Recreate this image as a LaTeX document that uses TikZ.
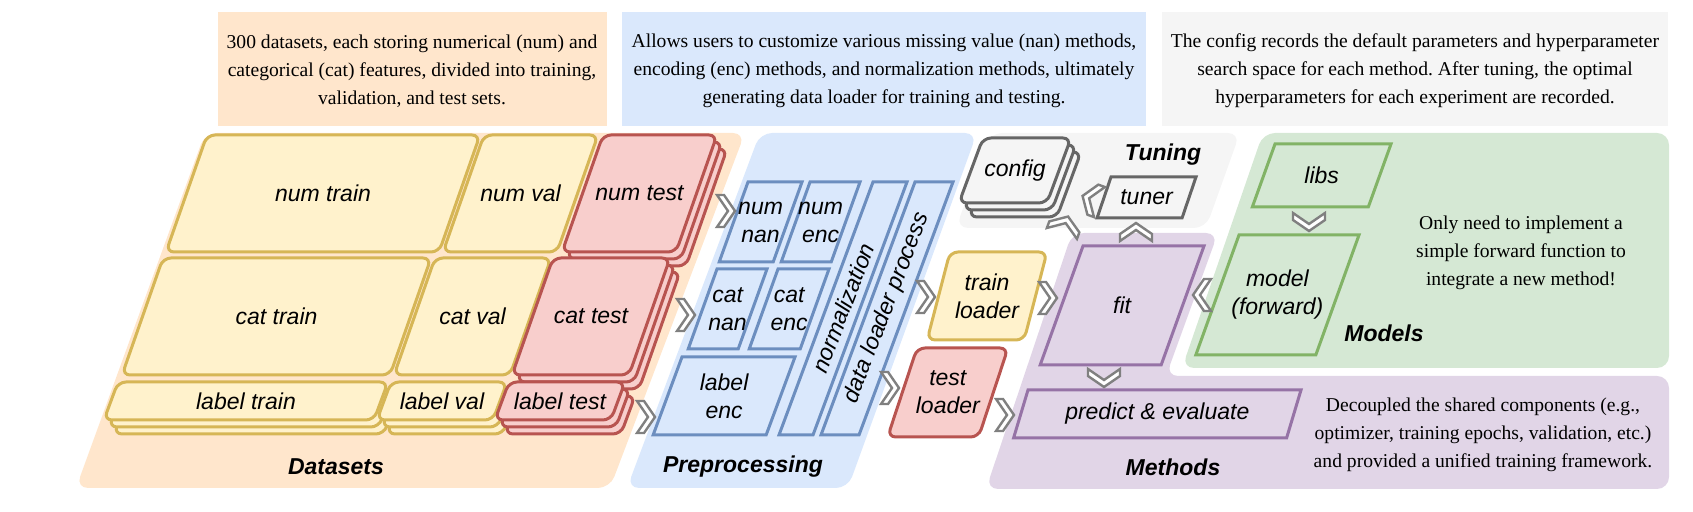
\documentclass[tikz,border=0pt]{standalone}
\usepackage{fontspec}
\setmainfont{Liberation Serif}
\newfontfamily\lab{Liberation Sans}

\definecolor{yfill}{HTML}{FFF2CC}
\definecolor{ydraw}{HTML}{D6B656}
\definecolor{rfill}{HTML}{F8CECC}
\definecolor{rdraw}{HTML}{B85450}
\definecolor{bfill}{HTML}{DAE8FC}
\definecolor{bdraw}{HTML}{6C8EBF}
\definecolor{gfill}{HTML}{D5E8D4}
\definecolor{gdraw}{HTML}{82B366}
\definecolor{pfill}{HTML}{E1D5E7}
\definecolor{pdraw}{HTML}{9673A6}
\definecolor{ofill}{HTML}{FFE6CC}
\definecolor{tfill}{HTML}{F5F5F5}
\definecolor{tdraw}{HTML}{666666}
\definecolor{chev}{HTML}{808080}

% slanted box: [slant]{style}{name}{x}{y}{w}{h}{text}
\newcommand{\slbox}[8][0.36]{%
	\draw[#2] (#4,#5) -- ++(#6,0) -- ++({-#1*#7},#7) -- ++(-#6,0) -- cycle;
	\node[lbl] (#3) at ({#4+#6/2-#1*#7/2},{#5+#7/2}) {#8};}
% two copies behind a box
\newcommand{\slstack}[6][0.36]{%
	\foreach \d in {2,1}
		\draw[#2, shift={(\d*5,\d*7)}] (#3,#4) -- ++(#5,0) -- ++({-#1*#6},#6) -- ++(-#5,0) -- cycle;}
% chevron arrow: {position}{angle}
\newcommand{\chev}[2]{\draw[chevron, shift={#1}, rotate=#2] (-9,-16) -- (-2,-16) -- (9,0) -- (-2,16) -- (-9,16) -- (2,0) -- cycle;}

\begin{document}
\begin{tikzpicture}[x=0.5pt, y=-0.5pt,
	lbl/.style={font=\lab\itshape\fontsize{11.5}{14}\selectfont, align=center, inner sep=0pt},
	sect/.style={font=\lab\bfseries\itshape\fontsize{11.5}{14}\selectfont, inner sep=0pt},
	desc/.style={font=\fontsize{9.8}{14}\selectfont, align=center, inner sep=0pt},
	ybox/.style={draw=ydraw, fill=yfill, line width=1.5pt, rounded corners=4pt},
	rbox/.style={draw=rdraw, fill=rfill, line width=1.5pt, rounded corners=4pt},
	bbox/.style={draw=bdraw, fill=bfill, line width=1.5pt},
	tbox/.style={draw=tdraw, fill=tfill, line width=1.5pt},
	gbox/.style={draw=gdraw, fill=gfill, line width=1.5pt},
	mbox/.style={draw=pdraw, fill=pfill, line width=1.5pt},
	chevron/.style={draw=chev, fill=white, line width=1.2pt}]
	\useasboundingbox (0,0) rectangle (1693,512);

	% panels
	\fill[ofill, rounded corners=6pt] (205,133) -- (745,133) -- (610,488) -- (76,488) -- cycle;
	\fill[bfill, rounded corners=6pt] (760,133) -- (977,133) -- (848,488) -- (627,488) -- cycle;
	\fill[tfill, rounded corners=6pt] (990,133) -- (1240,133) -- (1206,228) -- (956,228) -- cycle;
	\fill[gfill, rounded corners=6pt] (1263,133) -- (1669,133) -- (1669,368) -- (1182,368) -- cycle;
	\fill[pfill, rounded corners=6pt] (1072,233) -- (1218,233) -- (1166,376) -- (1669,376) -- (1669,489) -- (986,489) -- cycle;

	% descriptions
	\fill[ofill] (218,12) rectangle (607,126);
	\fill[bfill] (622,12) rectangle (1146,126);
	\fill[tfill] (1162,12) rectangle (1668,126);
	\node[desc] (dsdesc) at (412,71) {300 datasets, each storing numerical (num) and\\categorical (cat) features, divided into training,\\validation, and test sets.};
	\node[desc] (ppdesc) at (884,71) {Allows users to customize various missing value (nan) methods,\\encoding (enc) methods, and normalization methods, ultimately\\generating data loader for training and testing.};
	\node[desc] (tndesc) at (1415,71) {The config records the default parameters and hyperparameter\\search space for each method.\ After tuning, the optimal\\hyperparameters for each experiment are recorded.};
	\node[desc] (mddesc) at (1521,253) {Only need to implement a\\simple forward function to\\integrate a new method!};
	\node[desc] (mtdesc) at (1483,435) {Decoupled the shared components (e.g.,\\optimizer, training epochs, validation, etc.)\\and provided a unified training framework.};

	% datasets
	\slbox[0.35]{ybox}{numtrain}{207}{135}{273}{117}{num train}
	\slbox[0.35]{ybox}{numval}{484}{135}{114}{117}{num val}
	\slstack[0.35]{rbox}{603}{135}{114}{117}
	\slbox[0.35]{rbox}{numtest}{603}{135}{114}{117}{num test}
	\slbox[0.35]{ybox}{cattrain}{163}{258}{268}{117}{cat train}
	\slbox[0.35]{ybox}{catval}{435}{258}{116}{117}{cat val}
	\slstack[0.35]{rbox}{553}{258}{117}{117}
	\slbox[0.35]{rbox}{cattest}{553}{258}{117}{117}{cat test}
	\slstack[0.37]{ybox}{118}{382}{270}{38}
	\slbox[0.37]{ybox}{labeltrain}{118}{382}{270}{38}{label train}
	\slstack[0.37]{ybox}{391}{382}{116}{38}
	\slbox[0.37]{ybox}{labelval}{391}{382}{116}{38}{label val}
	\slstack[0.37]{rbox}{509}{382}{116}{38}
	\slbox[0.37]{rbox}{labeltest}{509}{382}{116}{38}{label test}

	% preprocessing
	\slbox{bbox}{numnan}{748}{182}{54}{80}{num\\nan}
	\slbox{bbox}{numenc}{810}{182}{50}{80}{num\\enc}
	\slbox{bbox}{catnan}{717}{269}{50}{80}{cat\\nan}
	\slbox{bbox}{catenc}{778}{269}{51}{80}{cat\\enc}
	\slbox[0.37]{bbox}{labelenc}{682}{357}{113}{78}{label\\enc}
	\draw[bbox] (873,182) -- ++(34,0) -- ++(-94,253) -- ++(-34,0) -- cycle;
	\node[lbl, rotate=69] (norm) at (843,308) {normalization};
	\draw[bbox] (915,182) -- ++(38,0) -- ++(-94,253) -- ++(-38,0) -- cycle;
	\node[lbl, rotate=69] (dlproc) at (887,308) {data loader process};
	\slbox[0.26]{ybox}{trainld}{950}{252}{97}{88}{train\\loader}
	\slbox[0.33]{rbox}{testld}{917}{348}{91}{89}{test\\loader}

	% tuning
	\slstack[0.37]{tbox, rounded corners=4pt}{983}{138}{88}{65}
	\slbox[0.37]{tbox, rounded corners=4pt}{config}{983}{138}{88}{65}{config}
	\slbox[0.34]{tbox}{tuner}{1111}{177}{85}{41}{tuner}

	% methods and models
	\slbox{mbox}{fit}{1083}{246}{121}{119}{fit}
	\slbox[0.3]{mbox}{predict}{1028}{390}{273}{48}{predict \& evaluate}
	\slbox{gbox}{libs}{1275}{144}{116}{63}{libs}
	\slbox{gbox}{model}{1239}{235}{120}{120}{model\\(forward)}

	% section names
	\node[sect] (dstitle) at (336,467) {Datasets};
	\node[sect] (pptitle) at (743,467) {Preprocessing};
	\node[sect] (mttitle) at (1173,467) {Methods};
	\node[sect] (tntitle) at (1163,155) {Tuning};
	\node[sect] (mdtitle) at (1384,333) {Models};

	% chevrons
	\chev{(726,211)}{0}
	\chev{(686,315)}{0}
	\chev{(646,417)}{0}
	\chev{(926,297)}{0}
	\chev{(890,388)}{0}
	\chev{(1048,298)}{0}
	\chev{(1005,415)}{0}
	\chev{(1202,295)}{180}
	\chev{(1309,222)}{-90}
	\chev{(1104,378)}{-90}
	\chev{(1136,232)}{90}
	\chev{(1091,199)}{160}
	\chev{(1065,225)}{70}
\end{tikzpicture}
\end{document}
